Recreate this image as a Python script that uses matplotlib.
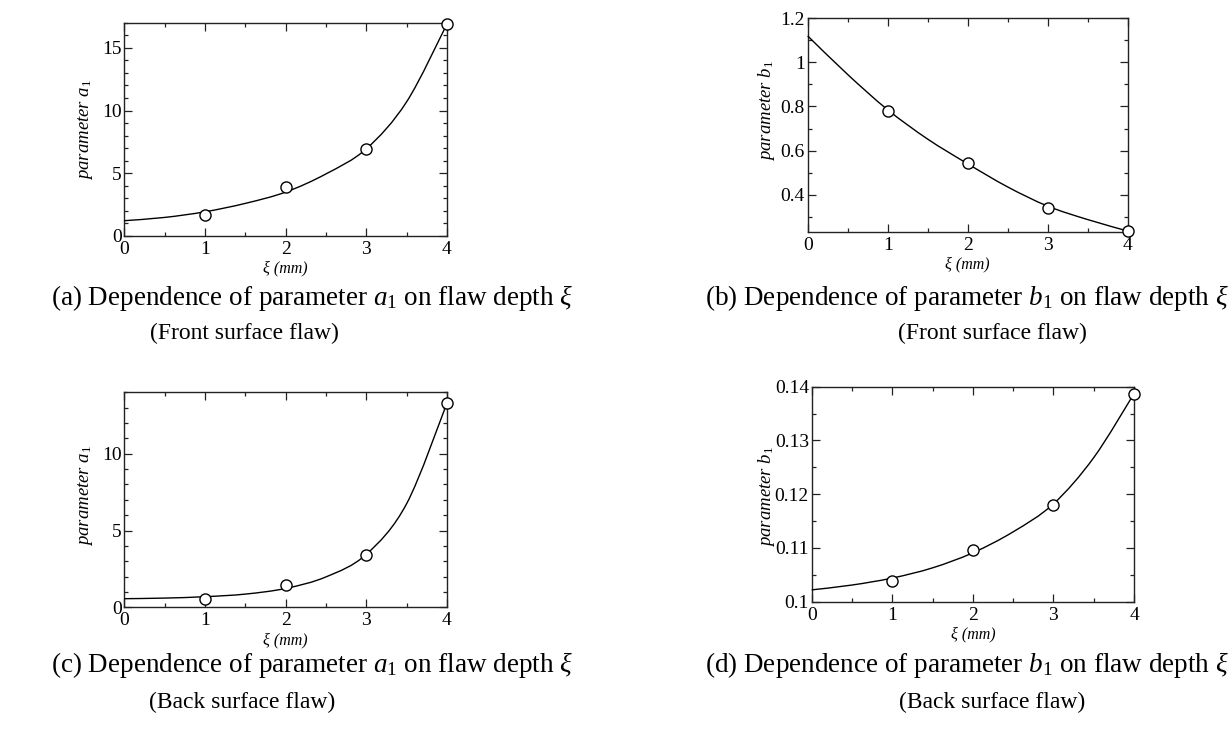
import numpy as np
import matplotlib
matplotlib.use("Agg")
import matplotlib.pyplot as plt
from matplotlib.path import Path
from matplotlib.patches import PathPatch
from matplotlib.ticker import MultipleLocator

plt.rcParams['font.family'] = ['Liberation Serif', 'DejaVu Serif']
plt.rcParams['mathtext.fontset'] = 'custom'
plt.rcParams['mathtext.rm'] = 'Liberation Serif'
plt.rcParams['mathtext.it'] = 'Liberation Serif:italic'

# ---- data ----
depth = [1, 2, 3, 4]                     # flaw depth xi (mm), measured points
curve_x = [0, 0.5, 1, 1.5, 2, 2.5, 3, 3.5, 4]   # positions where fitted curve was read

a1_front = [1.65, 3.88, 6.96, 16.9]
a1_front_curve = [1.22, 1.48, 1.93, 2.6, 3.5, 4.95, 6.95, 10.7, 16.9]

b1_front = [0.779, 0.545, 0.34, 0.235]
b1_front_curve = [1.12, 0.945, 0.785, 0.652, 0.54, 0.435, 0.348, 0.287, 0.235]

a1_back = [0.54, 1.47, 3.42, 13.3]
a1_back_curve = [0.56, 0.60, 0.69, 0.86, 1.23, 1.98, 3.45, 6.75, 13.3]

b1_back = [0.1039, 0.1097, 0.1179, 0.1387]
b1_back_curve = [0.1022, 0.1031, 0.1044, 0.1063, 0.1091, 0.1130, 0.1182, 0.1268, 0.1387]

x_ticks = [0, 1, 2, 3, 4]
a1_front_yticks = [0, 5, 10, 15]
b1_front_yticks = [0.4, 0.6, 0.8, 1.0, 1.2]
b1_front_ylabels = ['0.4', '0.6', '0.8', '1', '1.2']
a1_back_yticks = [0, 5, 10]
b1_back_yticks = [0.10, 0.11, 0.12, 0.13, 0.14]
b1_back_ylabels = ['0.1', '0.11', '0.12', '0.13', '0.14']

captions = [
    (r"(a) Dependence of parameter $a_1$ on flaw depth $\xi$", "(Front surface flaw)"),
    (r"(b) Dependence of parameter $b_1$ on flaw depth $\xi$", "(Front surface flaw)"),
    (r"(c) Dependence of parameter $a_1$ on flaw depth $\xi$", "(Back surface flaw)"),
    (r"(d) Dependence of parameter $b_1$ on flaw depth $\xi$", "(Back surface flaw)"),
]

W, H = 1232, 741
fig = plt.figure(figsize=(W / 100, H / 100), dpi=100)


def make_axes(l, r, t, b):
    return fig.add_axes([l / W, 1 - b / H, (r - l) / W, (b - t) / H])


def smooth_line(ax, xs, ys):
    xs = np.asarray(xs, float)
    ys = np.asarray(ys, float)
    pts = np.column_stack([xs, ys])
    n = len(pts)
    verts = [pts[0]]
    codes = [Path.MOVETO]
    for i in range(n - 1):
        p0 = pts[i - 1] if i > 0 else pts[i]
        p1 = pts[i]
        p2 = pts[i + 1]
        p3 = pts[i + 2] if i + 2 < n else pts[i + 1]
        c1 = p1 + (p2 - p0) / 6.0
        c2 = p2 - (p3 - p1) / 6.0
        verts += [c1, c2, p2]
        codes += [Path.CURVE4] * 3
    patch = PathPatch(Path(verts, codes), facecolor='none', edgecolor='black',
                      lw=1.0, transform=ax.transData, clip_on=False, zorder=3)
    ax.add_patch(patch)


def style_axes(ax, ylim, yticks, ylabels, yminor, ylabel):
    ax.set_xlim(0, 4)
    ax.set_ylim(*ylim)
    ax.set_xticks(x_ticks)
    ax.set_xticklabels([str(t) for t in x_ticks])
    ax.xaxis.set_minor_locator(MultipleLocator(0.5))
    ax.set_yticks(yticks)
    ax.set_yticklabels(ylabels)
    ax.yaxis.set_minor_locator(MultipleLocator(yminor))
    ax.tick_params(which='both', direction='in', top=True, right=True,
                   labelsize=14, width=0.9, color='#222222')
    ax.tick_params(which='major', length=5.5)
    ax.tick_params(which='minor', length=3)
    ax.tick_params(axis='y', pad=2.0)
    ax.tick_params(axis='x', pad=3.5)
    for s in ax.spines.values():
        s.set_linewidth(1.0)
        s.set_color('#222222')
    ax.set_xlabel("ξ (mm)", fontsize=11.5, style='italic', labelpad=2)
    ax.set_ylabel(ylabel, fontsize=13.5, style='italic')


panels = [
    ((124.3, 447, 22.7, 236), a1_front, a1_front_curve, (0, 17),
     a1_front_yticks, [str(v) for v in a1_front_yticks], 1, r"parameter $a_1$"),
    ((807.7, 1127.7, 18.3, 231.7), b1_front, b1_front_curve, (0.232, 1.2),
     b1_front_yticks, b1_front_ylabels, 0.1, r"parameter $b_1$"),
    ((124.3, 447, 392.3, 607.3), a1_back, a1_back_curve, (0, 14),
     a1_back_yticks, [str(v) for v in a1_back_yticks], 1, r"parameter $a_1$"),
    ((811.7, 1134, 386.7, 601.7), b1_back, b1_back_curve, (0.1, 0.14),
     b1_back_yticks, b1_back_ylabels, 0.005, r"parameter $b_1$"),
]

ylabel_offsets = [29, 31, 29, 35]
ylabel_ypos = [0.5, 0.57, 0.52, 0.49]

for i, (box, pts, crv, ylim, yt, yl, ymin, ylab) in enumerate(panels):
    ax = make_axes(*box)
    style_axes(ax, ylim, yt, yl, ymin, ylab)
    l, r, t, b = box
    ax.yaxis.set_label_coords(-ylabel_offsets[i] / (r - l), ylabel_ypos[i])
    smooth_line(ax, curve_x, crv)
    ax.plot(depth, pts, linestyle='none', marker='o', markersize=8,
            markerfacecolor='white', markeredgecolor='black',
            markeredgewidth=1.0, clip_on=False, zorder=4)

# captions: (x, y, ha, size) for line 1 and line 2
cap_layout = [
    ((312, 298, 'center', 19.5), (244, 333, 'center', 17)),
    ((1229, 298, 'right', 19.5), (992, 333, 'center', 17)),
    ((312, 665, 'center', 19.5), (242, 702, 'center', 17)),
    ((1229, 665, 'right', 19.5), (992, 702, 'center', 17)),
]
for (l1, l2), (p1, p2) in zip(captions, cap_layout):
    for txt, (x, y, ha, fs) in ((l1, p1), (l2, p2)):
        fig.text(x / W, 1 - y / H, txt, ha=ha, va='center', fontsize=fs)

fig.savefig("out.png", dpi=100)
